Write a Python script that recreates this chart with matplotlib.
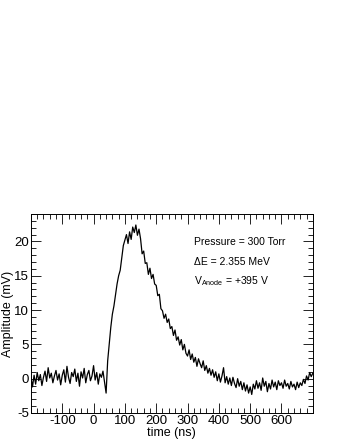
import matplotlib
matplotlib.use("Agg")
import matplotlib.pyplot as plt
import numpy as np
from matplotlib.ticker import MultipleLocator, FixedLocator

plt.rcParams['font.family'] = ['Liberation Sans', 'DejaVu Sans']
plt.rcParams['axes.unicode_minus'] = False
plt.rcParams['mathtext.fontset'] = 'custom'
plt.rcParams['mathtext.rm'] = 'Liberation Sans'
plt.rcParams['mathtext.it'] = 'Liberation Sans'

# waveform, one sample every 5 ns from -200 to 700 ns
t_start = -200
t_step = 5
amplitude = [
    0.3, -1.2, 0.5, -0.8, 0.9, -0.3, 0.6, -1.0, 0.2, 1.1,
    -0.4, 1.6, 0.1, 0.8, -0.6, 0.4, 1.2, -0.2, 0.7, -0.9,
    0.5, 1.3, -0.5, 1.8, 0.2, -0.7, 0.9, 0.3, 1.4, -0.4,
    0.8, -1.1, 1.0, 0.1, 1.5, -0.6, 0.6, 1.2, -0.3, 0.4,
    1.9, -0.2, 0.9, -0.8, 0.7, 0.2, 1.1, -0.5, -2.1, 2.6,
    5.0, 7.5, 9.4, 10.6, 12.2, 13.8, 15.0, 15.8, 17.6, 19.4,
    20.2, 21.0, 19.7, 21.4, 20.3, 22.1, 21.3, 22.4, 20.9, 21.8,
    20.4, 18.2, 18.6, 16.8, 16.9, 15.2, 16.1, 14.6, 15.2, 13.8,
    13.6, 12.1, 12.3, 10.2, 9.9, 8.8, 9.4, 8.2, 8.7, 7.3,
    7.6, 6.3, 7.1, 5.6, 6.1, 4.9, 5.7, 4.2, 5.0, 3.7,
    3.3, 4.2, 2.8, 3.6, 2.4, 3.1, 1.8, 2.9, 2.2, 1.6,
    2.6, 1.2, 1.9, 0.8, 1.5, 0.5, 1.3, 0.2, 1.0, -0.3,
    0.7, -0.5, 0.4, 1.6, -0.6, 0.3, -0.8, 0.1, -1.0, 0.2,
    -0.7, -1.3, 0.0, -1.1, -0.4, -1.6, -0.6, -1.8, -0.9, -2.1,
    -1.2, -2.3, -0.8, -1.5, -0.3, -1.4, -0.6, -1.7, 0.1, -1.1,
    -0.4, -1.9, -0.7, -1.5, -0.2, -1.2, -0.5, -1.6, -0.3, -1.0,
    -0.6, -1.4, -0.2, -1.1, -0.7, -1.5, -0.4, -1.2, -0.8, -1.6,
    -0.5, -1.3, -0.6, -1.0, -0.1, -0.7, 0.4, -0.2, 0.9, 0.3,
    0.8,
]
time = t_start + t_step * np.arange(len(amplitude))

x_ticks = [-100, 0, 100, 200, 300, 400, 500, 600]
y_ticks = [-5, 0, 5, 10, 15, 20]

info_lines = ["Pressure = 300 Torr", "ΔE = 2.355 MeV", r"V$_{\mathrm{Anode}}$ = +395 V"]

fig = plt.figure(figsize=(3.4, 4.4), dpi=100)
ax = fig.add_axes([0.091, 0.0614, 0.829, 0.4522])

ax.plot(time, amplitude, color='black', lw=0.9)

ax.set_xlim(-200, 700)
ax.set_ylim(-5, 24)
ax.xaxis.set_major_locator(FixedLocator(x_ticks))
ax.xaxis.set_minor_locator(MultipleLocator(20))
ax.yaxis.set_major_locator(FixedLocator(y_ticks))
ax.yaxis.set_minor_locator(MultipleLocator(1))
ax.tick_params(which='both', direction='in', top=True, right=True, labelsize=9.5, pad=1.5)
ax.tick_params(which='major', length=7, width=0.6)
ax.tick_params(which='minor', length=3.5, width=0.6)
for s in ax.spines.values():
    s.set_linewidth(0.7)

ax.set_xlabel("time (ns)", fontsize=9, labelpad=0)
ax.set_ylabel("Amplitude (mV)", fontsize=9, labelpad=0)

ax.text(322, 19.5, info_lines[0], fontsize=7.5)
ax.text(322, 16.6, info_lines[1], fontsize=7.5)
ax.text(322, 13.7, info_lines[2], fontsize=7.5)

fig.savefig("out.png", dpi=100)
